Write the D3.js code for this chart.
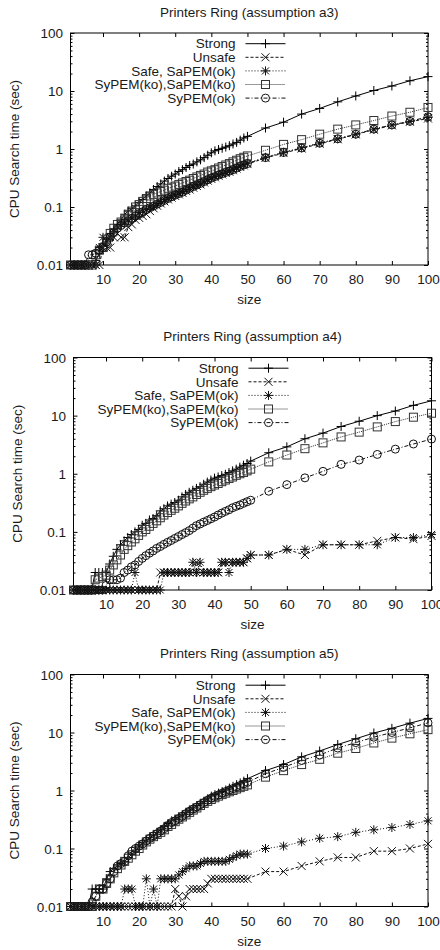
<!DOCTYPE html>
<html>
<head>
<meta charset="utf-8">
<script src="https://cdn.jsdelivr.net/npm/d3@7"></script>
<style>
body { margin: 0; background: #fff; }
text { font-family: "Liberation Sans", Arial, sans-serif; font-size: 13.5px; fill: #1a1a1a; }
</style>
</head>
<body>
<svg id="chart" width="440" height="950"></svg>
<script>
const sizes = [1,2,3,4,5,6,7,8,9,10,11,12,13,14,15,16,17,18,19,20,21,22,23,24,25,26,27,28,29,30,
  31,32,33,34,35,36,37,38,39,40,41,42,43,44,45,46,47,48,49,50,55,60,65,70,75,80,85,90,95,100]
const seriesNames = ["Strong", "Unsafe", "Safe, SaPEM(ok)", "SyPEM(ko),SaPEM(ko)", "SyPEM(ok)"]
const panelTitles = ["Printers Ring (assumption a3)", "Printers Ring (assumption a4)", "Printers Ring (assumption a5)"]
const xTicks = [10,20,30,40,50,60,70,80,90,100]
const yTicks = [0.01,0.1,1,10,100]
const yTickLabels = ["0.01","0.1","1","10","100"]

// assumption a3
const a3Strong = [0.01,0.01,0.01,0.01,0.01,0.01,0.01,0.012,0.016,0.021,
  0.028,0.035,0.042,0.05,0.06,0.075,0.085,0.095,0.105,0.12,
  0.135,0.155,0.175,0.2,0.225,0.25,0.28,0.31,0.34,0.37,
  0.41,0.44,0.48,0.52,0.55,0.6,0.65,0.71,0.78,0.86,
  0.93,0.98,1.03,1.08,1.14,1.22,1.3,1.42,1.55,1.65,
  2.3,2.9,4.0,5.0,6.5,8.2,10.2,12.2,15,17.7]
const a3Unsafe = [0.01,0.01,0.01,0.01,0.01,0.01,0.01,0.01,0.01,0.02,
  0.02,0.02,0.03,0.035,0.03,0.03,0.045,0.05,0.06,0.065,
  0.07,0.075,0.085,0.095,0.105,0.115,0.125,0.135,0.145,0.155,
  0.165,0.175,0.19,0.2,0.215,0.23,0.245,0.265,0.285,0.305,
  0.325,0.345,0.365,0.385,0.405,0.43,0.46,0.49,0.52,0.55,
  0.7,0.85,1.02,1.23,1.47,1.78,2.15,2.55,2.95,3.35]
const a3Safe = [0.01,0.01,0.01,0.01,0.01,0.01,0.01,0.01,0.02,0.03,
  0.025,0.03,0.038,0.045,0.05,0.055,0.06,0.065,0.07,0.08,
  0.085,0.09,0.1,0.105,0.115,0.125,0.135,0.145,0.155,0.165,
  0.175,0.185,0.2,0.215,0.23,0.245,0.26,0.28,0.3,0.32,
  0.34,0.36,0.38,0.4,0.42,0.45,0.48,0.51,0.54,0.57,
  0.72,0.88,1.05,1.27,1.5,1.8,2.2,2.6,3.0,3.5]
const a3SyKo = [0.01,0.01,0.01,0.01,0.01,0.01,0.01,0.015,0.018,0.02,
  0.028,0.035,0.043,0.05,0.055,0.06,0.075,0.085,0.1,0.11,
  0.125,0.14,0.155,0.165,0.175,0.185,0.195,0.21,0.22,0.23,
  0.245,0.26,0.275,0.29,0.31,0.33,0.35,0.37,0.4,0.42,
  0.44,0.47,0.5,0.53,0.56,0.6,0.64,0.68,0.72,0.76,
  0.95,1.2,1.45,1.8,2.2,2.6,3.1,3.7,4.3,5.2]
const a3SyOk = [0.01,0.01,0.01,0.01,0.01,0.015,0.015,0.016,0.018,0.02,
  0.025,0.03,0.036,0.043,0.048,0.053,0.058,0.064,0.07,0.077,
  0.083,0.09,0.097,0.104,0.112,0.12,0.13,0.14,0.15,0.16,
  0.17,0.18,0.195,0.21,0.225,0.24,0.255,0.275,0.295,0.315,
  0.335,0.355,0.375,0.395,0.415,0.44,0.47,0.5,0.53,0.56,
  0.71,0.87,1.04,1.26,1.5,1.8,2.2,2.6,3.0,3.6]

// assumption a4
const a4Strong = [0.01,0.01,0.01,0.01,0.01,0.01,0.02,0.02,0.02,0.02,
  0.028,0.038,0.05,0.06,0.07,0.08,0.09,0.1,0.11,0.13,
  0.14,0.16,0.17,0.19,0.23,0.25,0.28,0.3,0.32,0.35,
  0.4,0.44,0.48,0.52,0.56,0.6,0.66,0.72,0.78,0.84,
  0.88,0.93,0.98,1.05,1.12,1.2,1.3,1.4,1.5,1.65,
  2.3,2.9,4.0,5.0,6.5,8.0,10,12,15,18]
const a4Unsafe = [0.01,0.01,0.01,0.01,0.01,0.01,0.01,0.01,0.01,0.01,
  0.01,0.01,0.01,0.01,0.01,0.01,0.01,0.01,0.01,0.01,
  0.01,0.01,0.01,0.01,0.02,0.02,0.02,0.02,0.02,0.02,
  0.02,0.02,0.02,0.02,0.03,0.02,0.02,0.02,0.02,0.02,
  0.02,0.03,0.03,0.03,0.03,0.03,0.03,0.03,0.035,0.04,
  0.04,0.05,0.04,0.06,0.06,0.06,0.07,0.08,0.075,0.085]
const a4Safe = [0.01,0.01,0.01,0.01,0.01,0.01,0.01,0.01,0.01,0.01,
  0.01,0.01,0.01,0.01,0.01,0.01,0.01,0.02,0.01,0.01,
  0.01,0.01,0.01,0.01,0.01,0.02,0.02,0.02,0.02,0.02,
  0.02,0.02,0.02,0.03,0.02,0.03,0.02,0.02,0.02,0.02,
  0.02,0.03,0.03,0.02,0.03,0.03,0.03,0.03,0.035,0.04,
  0.04,0.05,0.05,0.06,0.06,0.06,0.06,0.08,0.08,0.09]
const a4SyKo = [0.01,0.01,0.01,0.01,0.01,0.01,0.015,0.016,0.017,0.018,
  0.022,0.027,0.033,0.04,0.05,0.058,0.067,0.076,0.087,0.1,
  0.11,0.125,0.14,0.155,0.175,0.195,0.215,0.235,0.255,0.28,
  0.31,0.34,0.37,0.4,0.44,0.48,0.52,0.56,0.6,0.64,
  0.68,0.73,0.78,0.83,0.88,0.94,1.0,1.05,1.12,1.2,
  1.6,2.1,2.7,3.4,4.3,5.2,6.4,7.9,9.4,11]
const a4SyOk = [0.01,0.01,0.01,0.01,0.01,0.01,0.01,0.01,0.01,0.012,
  0.015,0.015,0.015,0.016,0.02,0.022,0.025,0.027,0.031,0.035,
  0.039,0.043,0.047,0.052,0.056,0.061,0.066,0.071,0.077,0.083,
  0.09,0.097,0.105,0.116,0.128,0.137,0.147,0.157,0.168,0.18,
  0.195,0.21,0.225,0.24,0.26,0.275,0.29,0.31,0.33,0.35,
  0.5,0.65,0.85,1.1,1.45,1.72,2.15,2.65,3.25,3.95]

// assumption a5
const a5Strong = [0.01,0.01,0.01,0.01,0.01,0.01,0.02,0.02,0.02,0.02,
  0.03,0.04,0.045,0.05,0.055,0.06,0.07,0.08,0.09,0.11,
  0.125,0.14,0.155,0.17,0.19,0.21,0.24,0.27,0.3,0.32,
  0.35,0.38,0.42,0.46,0.5,0.55,0.6,0.65,0.72,0.8,
  0.85,0.9,0.96,1.02,1.1,1.18,1.26,1.35,1.45,1.6,
  2.2,2.8,3.8,4.8,6.2,7.8,9.8,11.8,14.5,17.5]
const a5Unsafe = [0.01,0.01,0.01,0.01,0.01,0.01,0.01,0.01,0.01,0.01,
  0.01,0.01,0.01,0.01,0.01,0.01,0.01,0.01,0.01,0.01,
  0.01,0.01,0.01,0.01,0.01,0.01,0.01,0.01,0.01,0.02,
  0.015,0.01,0.015,0.02,0.02,0.02,0.02,0.02,0.025,0.03,
  0.03,0.03,0.03,0.03,0.03,0.03,0.03,0.03,0.03,0.03,
  0.04,0.04,0.05,0.06,0.07,0.07,0.09,0.09,0.1,0.12]
const a5Safe = [0.01,0.01,0.01,0.01,0.01,0.01,0.01,0.01,0.01,0.01,
  0.01,0.01,0.01,0.01,0.01,0.02,0.02,0.02,0.01,0.01,
  0.01,0.03,0.01,0.02,0.01,0.03,0.03,0.03,0.03,0.03,
  0.035,0.04,0.045,0.05,0.05,0.05,0.055,0.06,0.06,0.06,
  0.06,0.06,0.06,0.06,0.065,0.07,0.075,0.08,0.08,0.08,
  0.1,0.11,0.13,0.15,0.16,0.19,0.21,0.23,0.26,0.3]
const a5SyKo = [0.01,0.01,0.01,0.01,0.01,0.01,0.01,0.015,0.02,0.02,
  0.025,0.03,0.038,0.045,0.052,0.06,0.068,0.078,0.09,0.1,
  0.115,0.13,0.145,0.16,0.175,0.19,0.21,0.24,0.26,0.29,
  0.32,0.35,0.38,0.42,0.46,0.5,0.55,0.6,0.65,0.7,
  0.75,0.8,0.85,0.9,0.95,1.0,1.06,1.12,1.18,1.25,
  1.7,2.2,2.8,3.45,4.4,5.3,6.6,8,9.5,11.2]
const a5SyOk = [0.01,0.01,0.01,0.01,0.01,0.01,0.012,0.015,0.02,0.02,
  0.025,0.03,0.04,0.05,0.055,0.06,0.075,0.09,0.1,0.11,
  0.12,0.135,0.15,0.165,0.18,0.2,0.22,0.25,0.28,0.3,
  0.33,0.36,0.4,0.44,0.48,0.52,0.57,0.62,0.68,0.74,
  0.79,0.84,0.9,0.96,1.02,1.08,1.15,1.22,1.3,1.38,
  1.95,2.5,3.3,4.1,5.4,6.7,8.3,10,12,14.7]

const panelSeries = [
  [a3Strong, a3Unsafe, a3Safe, a3SyKo, a3SyOk],
  [a4Strong, a4Unsafe, a4Safe, a4SyKo, a4SyOk],
  [a5Strong, a5Unsafe, a5Safe, a5SyKo, a5SyOk]
]

// plot boxes (pixels) for the three stacked panels
const boxes = [
  {left: 70.5, top: 33, right: 428, bottom: 265},
  {left: 73.5, top: 357.5, right: 431.5, bottom: 590},
  {left: 70.5, top: 674.5, right: 428, bottom: 906.5}
]

const dashes = [null, "3,2", "1,2", "1,1", "4,2,1,2"]
const lineColors = ["#000", "#111", "#111", "#333", "#111"]

const markers = [
  g => g.append("path").attr("d", "M-4.5,0H4.5M0,-4.5V4.5"),
  g => g.append("path").attr("d", "M-4,-4L4,4M-4,4L4,-4"),
  g => g.append("path").attr("d", "M-4.5,0H4.5M0,-4.5V4.5M-3.5,-3.5L3.5,3.5M-3.5,3.5L3.5,-3.5"),
  g => g.append("rect").attr("x", -4).attr("y", -4).attr("width", 8).attr("height", 8),
  g => g.append("circle").attr("r", 4)
]

const minorTicks = []
for (let e = -2; e < 2; e++) {
  for (let m = 2; m < 10; m++) minorTicks.push(m * Math.pow(10, e))
}

const svg = d3.select("#chart")

boxes.forEach((b, pi) => {
  const x = d3.scaleLinear([1, 100], [b.left, b.right])
  const y = d3.scaleLog([0.01, 100], [b.bottom, b.top])
  const g = svg.append("g")

  // ticks, gnuplot style (inward, mirrored)
  const tidy = a => a.call(s => s.select(".domain").remove())
      .call(s => s.selectAll("line").attr("stroke", "#000"))
      .attr("font-size", null).attr("font-family", null)

  g.append("g").attr("transform", `translate(0,${b.bottom})`)
      .call(d3.axisBottom(x).tickValues(xTicks).tickSize(-4).tickPadding(0))
      .call(tidy)
      .call(s => s.selectAll("text").attr("y", 19).attr("dy", null))
  g.append("g").attr("transform", `translate(0,${b.top})`)
      .call(d3.axisTop(x).tickValues(xTicks).tickSize(-4).tickFormat(""))
      .call(tidy)
  g.append("g").attr("transform", `translate(${b.left},0)`)
      .call(d3.axisLeft(y).tickValues(yTicks).tickSize(-4).tickPadding(7.5)
        .tickFormat((d, i) => yTickLabels[i]))
      .call(tidy)
      .call(s => s.selectAll("text").attr("dy", "0.35em"))
  g.append("g").attr("transform", `translate(${b.right},0)`)
      .call(d3.axisRight(y).tickValues(yTicks).tickSize(-4).tickFormat(""))
      .call(tidy)
  g.append("g").attr("transform", `translate(${b.left},0)`)
      .call(d3.axisLeft(y).tickValues(minorTicks).tickSize(-2).tickFormat(""))
      .call(tidy)
  g.append("g").attr("transform", `translate(${b.right},0)`)
      .call(d3.axisRight(y).tickValues(minorTicks).tickSize(-2).tickFormat(""))
      .call(tidy)

  // frame
  g.append("rect")
      .attr("x", b.left).attr("y", b.top)
      .attr("width", b.right - b.left).attr("height", b.bottom - b.top)
      .attr("fill", "none").attr("stroke", "#000")

  // titles
  g.append("text")
      .attr("x", (b.left + b.right) / 2).attr("y", b.top - 16.5)
      .attr("text-anchor", "middle")
      .text(panelTitles[pi])
  g.append("text")
      .attr("x", (b.left + b.right) / 2).attr("y", b.bottom + 39)
      .attr("text-anchor", "middle")
      .text("size")
  g.append("text")
      .attr("transform", `translate(${b.left - 52},${(b.top + b.bottom) / 2}) rotate(-90)`)
      .attr("text-anchor", "middle")
      .text("CPU Search time (sec)")

  // series
  const line = d3.line().x((d, i) => x(sizes[i])).y(d => y(d))
  panelSeries[pi].forEach((vals, si) => {
    const sg = g.append("g")
        .attr("fill", "none").attr("stroke", lineColors[si]).attr("stroke-width", 1)
    sg.append("path")
        .attr("d", line(vals))
        .attr("stroke-dasharray", dashes[si])
    vals.forEach((v, i) => {
      markers[si](sg.append("g").attr("transform", `translate(${x(sizes[i])},${y(v)})`))
    })
  })

  // legend
  const lg = g.append("g")
  seriesNames.forEach((name, si) => {
    const ly = b.top + 10.7 + si * 13.6
    lg.append("text")
        .attr("x", b.left + 165).attr("y", ly).attr("dy", "0.35em")
        .attr("text-anchor", "end")
        .text(name)
    const sg = lg.append("g")
        .attr("fill", "none").attr("stroke", lineColors[si])
    sg.append("line")
        .attr("x1", b.left + 175).attr("x2", b.left + 215)
        .attr("y1", ly).attr("y2", ly)
        .attr("stroke-dasharray", dashes[si])
    markers[si](sg.append("g").attr("transform", `translate(${b.left + 195},${ly})`))
  })
})
</script>
</body>
</html>
